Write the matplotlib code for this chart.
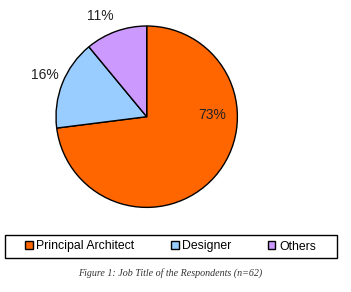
import matplotlib
matplotlib.use("Agg")
import matplotlib.pyplot as plt
from matplotlib.patches import Rectangle

categories = ["Principal Architect", "Designer", "Others"]
values = [73, 16, 11]
colors = ["#FF6600", "#99CCFF", "#CC99FF"]
label_pos = [(0.717, 0.019), (-1.121, 0.46), (-0.507, 1.11)]

W, H = 351, 292
fig = plt.figure(figsize=(W/100, H/100), dpi=100)
plt.rcParams['font.family'] = ['Liberation Sans', 'DejaVu Sans']

cx, cy, r = 146.7, 292 - 116.7, 90.7
half = 1.25 * r
ax = fig.add_axes([(cx - half)/W, (cy - half)/H, 2*half/W, 2*half/H])
wedges, _ = ax.pie(values, colors=colors, startangle=90, counterclock=False,
                   wedgeprops=dict(edgecolor='black', linewidth=1.0))
ax.set_xlim(-1.25, 1.25)
ax.set_ylim(-1.25, 1.25)
for v, (x, y) in zip(values, label_pos):
    ax.text(x, y, f"{v}%", ha='center', va='center', fontsize=10, color='#222222')

# legend box
bx0, bx1 = 4.7, 336.7
by0, by1 = 292 - 258.3, 292 - 234.7
fig.patches.append(Rectangle((bx0/W, by0/H), (bx1-bx0)/W, (by1-by0)/H,
                             transform=fig.transFigure, fill=False,
                             edgecolor='black', linewidth=1.0))
leg = fig.legend(wedges, categories, loc='center',
                 bbox_to_anchor=((bx0+bx1)/2/W, (by0+by1)/2/H),
                 ncol=3, frameon=False, fontsize=8.8, handlelength=0.6,
                 handleheight=0.6, handletextpad=0.3, columnspacing=3.0)
for h in leg.legend_handles:
    h.set_linewidth(1.0)

fig.text(170/W, (292-273.3)/H, "Figure 1: Job Title of the Respondents (n=62)",
         ha='center', va='center', fontsize=7.2, style='italic',
         family='Liberation Serif', color='#333333')

fig.savefig("out.png", dpi=100)
